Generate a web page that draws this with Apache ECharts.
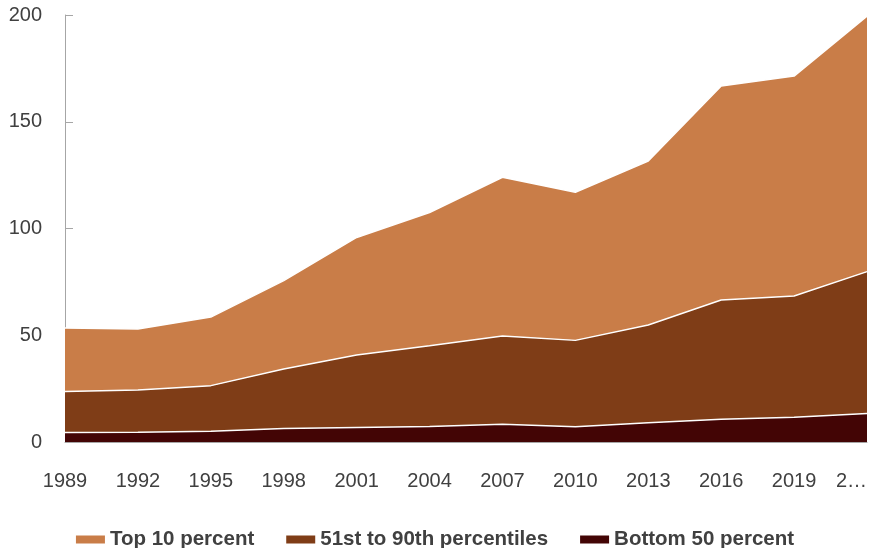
<!DOCTYPE html>
<html>
<head>
    <meta charset="UTF-8">
    <title>Income shares</title>
    <script src="https://cdn.jsdelivr.net/npm/echarts@6/dist/echarts.min.js"></script>
    <style>
        html, body { margin: 0; padding: 0; background: #fff; }
        #main { width: 870px; height: 548px; }
    </style>
</head>
<body>
<div id="main"></div>
<script>
    var years = ['1989', '1992', '1995', '1998', '2001', '2004', '2007', '2010', '2013', '2016', '2019', '2022'];
    var tickLabels = ['1989', '1992', '1995', '1998', '2001', '2004', '2007', '2010', '2013', '2016', '2019', '2\u2026'];
    var bottom50 = [4.4, 4.6, 5.0, 6.3, 6.8, 7.3, 8.3, 7.2, 9.0, 10.6, 11.6, 13.4];
    var mid51to90 = [19.2, 19.8, 21.4, 27.9, 33.9, 37.8, 41.3, 40.4, 45.8, 55.9, 56.8, 66.4];
    var top10 = [29.8, 28.5, 32.1, 41.4, 55.1, 62.4, 74.4, 69.4, 76.8, 100.2, 103.0, 119.7];

    var txt = '#404040';

    function areaSeries(name, data, color) {
        return {
            name: name,
            type: 'line',
            stack: 'total',
            data: data,
            symbol: 'none',
            lineStyle: { color: '#fff', width: 1.5 },
            areaStyle: { color: color, opacity: 1 },
            itemStyle: { color: color },
            emphasis: { disabled: true }
        };
    }

    var option = {
        animation: false,
        grid: { left: 65, right: 3, top: 15, bottom: 106 },
        legend: {
            top: 524,
            left: 'center',
            itemWidth: 29,
            itemHeight: 8,
            itemGap: 32,
            itemTextGap: 10,
            icon: 'rect',
            textStyle: { color: txt, fontSize: 20.5, fontWeight: 'bold', fontFamily: 'Liberation Sans' },
            data: ['Top 10 percent', '51st to 90th percentiles', 'Bottom 50 percent']
        },
        xAxis: {
            type: 'category',
            data: years,
            boundaryGap: false,
            axisLine: { lineStyle: { color: '#a6a6a6' } },
            axisTick: { show: false },
            axisLabel: {
                color: txt, fontSize: 20, fontFamily: 'Liberation Sans', margin: 29,
                alignMaxLabel: 'right',
                formatter: function (v, i) { return tickLabels[i]; }
            }
        },
        yAxis: {
            type: 'value',
            min: 0,
            max: 200,
            interval: 50,
            splitLine: { show: false },
            axisLine: { show: true, lineStyle: { color: '#a6a6a6' } },
            axisTick: { show: true, inside: true, length: 8, lineStyle: { color: '#a6a6a6' } },
            axisLabel: { color: txt, fontSize: 20, fontFamily: 'Liberation Sans', margin: 23 }
        },
        series: [
            areaSeries('Bottom 50 percent', bottom50, '#430505'),
            areaSeries('51st to 90th percentiles', mid51to90, '#7f3d17'),
            areaSeries('Top 10 percent', top10, '#c97d48')
        ]
    };

    var myChart = echarts.init(document.getElementById('main'));
    myChart.setOption(option);
</script>
</body>
</html>
